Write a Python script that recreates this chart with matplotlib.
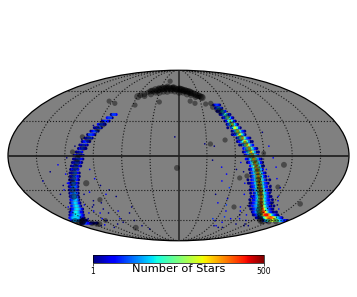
#!/usr/bin/env python

import matplotlib
matplotlib.use('Agg')
import matplotlib.pyplot as plt
import matplotlib.cm as cm
from matplotlib.colors import LogNorm
import numpy as np

CELL_STEP = 2.  # degrees of longitude between cells of a row

# right stream: latitude of each row, longitude of its centre, counts per cell
right_lat = [45, 42, 39, 36, 33, 30, 27, 24, 21, 18, 15, 12, 9, 6, 3, 0, -3, -6, -9, -12, -15, -18, -21, -24,
             -27, -30, -33, -36, -39, -42, -45, -48, -51, -54, -57, -60]
right_center = [50, 51, 53.5, 56, 58, 59.5, 61, 63, 65, 66.5, 69, 71, 73, 75, 76.5, 78, 79.5, 81, 82.5, 84, 85.5, 87, 88.5, 90,
                92, 94.5, 97, 99.5, 102, 105, 109, 114, 120, 128, 140, 158]
right_counts = [
    [1, 2, 3, 2, 1],
    [2, 3, 6, 3, 1],
    [1, 2, 3, 9, 4, 2, 0],
    [1, 2, 4, 14, 5, 2, 1],
    [1, 2, 6, 22, 7, 2, 1],
    [1, 2, 8, 30, 8, 2, 1],
    [1, 3, 9, 40, 10, 3, 1],
    [1, 0, 3, 10, 45, 12, 3, 1, 0],
    [0, 1, 3, 11, 50, 13, 4, 2, 1],
    [1, 2, 3, 12, 55, 13, 4, 1, 0],
    [0, 1, 4, 13, 60, 14, 4, 2, 1],
    [1, 2, 4, 13, 60, 14, 4, 1, 1],
    [1, 1, 4, 14, 65, 15, 4, 2, 0],
    [0, 2, 4, 14, 70, 15, 5, 2, 1],
    [1, 2, 5, 15, 70, 16, 5, 1, 1],
    [1, 2, 5, 15, 75, 16, 5, 2, 0],
    [2, 1, 5, 16, 75, 18, 5, 2, 1],
    [1, 2, 5, 16, 80, 18, 6, 2, 1],
    [0, 2, 6, 18, 80, 20, 6, 1, 1],
    [1, 2, 6, 18, 85, 20, 6, 2, 0],
    [1, 3, 6, 18, 85, 20, 6, 2, 1],
    [1, 3, 6, 20, 90, 22, 7, 2, 1],
    [1, 0, 2, 3, 6, 20, 90, 22, 7, 3, 1, 0, 1],
    [1, 1, 2, 3, 7, 20, 95, 24, 7, 3, 2, 1, 0],
    [0, 1, 2, 3, 7, 22, 100, 24, 8, 3, 2, 0, 1],
    [1, 1, 2, 4, 8, 22, 100, 25, 8, 3, 2, 1, 1],
    [1, 0, 2, 4, 8, 24, 110, 25, 8, 4, 2, 1, 0],
    [1, 2, 2, 4, 8, 24, 110, 28, 9, 4, 2, 1, 1],
    [1, 0, 2, 2, 4, 9, 25, 120, 30, 9, 4, 2, 2, 0, 1],
    [1, 1, 2, 3, 5, 10, 28, 130, 32, 10, 4, 3, 2, 1, 1],
    [1, 0, 2, 3, 5, 6, 11, 30, 150, 35, 11, 5, 3, 2, 1, 0, 1],
    [1, 1, 2, 3, 5, 7, 12, 35, 170, 40, 12, 6, 3, 2, 1, 1, 0],
    [0, 1, 2, 3, 5, 8, 14, 40, 100, 200, 60, 18, 6, 3, 2, 1, 1, 0, 1],
    [1, 1, 2, 3, 5, 9, 16, 40, 120, 250, 260, 120, 40, 12, 5, 3, 2, 1, 1],
    [1, 2, 2, 3, 4, 6, 10, 18, 40, 90, 140, 160, 120, 70, 30, 14, 8, 5, 3, 2, 1],
    [2, 3, 5, 8, 12, 20, 30, 40, 40, 30, 24, 18, 12, 8, 6, 4, 3, 2, 2, 1, 1],
]

# left stream
left_lat = [36, 33, 30, 27, 24, 21, 18, 15, 12, 9, 6, 3, 0, -3, -6, -9, -12, -15, -18, -21, -24,
            -27, -30, -33, -36, -39, -42, -45, -48, -51, -54, -57, -60, -63]
left_center = [-78, -81, -84, -87, -90, -92.5, -95, -97, -99, -101, -102, -104, -105.5, -106, -107.5, -109, -110.5, -112, -113, -115, -117,
               -119, -121, -123, -125.5, -128, -131, -134, -138, -144, -150, -157, -162, -155]
left_counts = [
    [1, 3, 3, 2],
    [2, 3, 3, 1],
    [1, 2, 3, 2, 1],
    [2, 3, 3, 2, 1],
    [1, 2, 3, 3, 1],
    [1, 2, 3, 3, 1],
    [1, 3, 3, 2, 1],
    [1, 2, 3, 3, 1],
    [1, 2, 3, 2, 1],
    [1, 2, 3, 2, 1],
    [1, 2, 3, 2, 1],
    [1, 2, 3, 2, 0],
    [1, 2, 3, 2, 2, 1],
    [1, 2, 3, 3, 2, 1],
    [1, 2, 3, 3, 2, 1],
    [1, 2, 3, 3, 2, 1],
    [1, 2, 3, 3, 2, 0],
    [1, 2, 3, 4, 2, 1],
    [1, 2, 4, 3, 2, 1],
    [1, 2, 3, 4, 2, 1],
    [2, 2, 4, 4, 2, 1],
    [1, 2, 4, 4, 3, 1],
    [1, 3, 4, 4, 2, 1],
    [1, 3, 4, 5, 3, 1],
    [1, 3, 5, 6, 3, 1],
    [2, 3, 5, 7, 4, 1],
    [1, 3, 5, 8, 5, 2, 1],
    [2, 3, 6, 9, 6, 3, 1],
    [1, 2, 3, 6, 9, 7, 4, 2, 1],
    [1, 2, 3, 6, 10, 8, 5, 2, 2, 1],
    [1, 2, 3, 5, 8, 9, 8, 6, 3, 2, 1],
    [2, 3, 5, 7, 8, 8, 7, 5, 3, 2, 2, 1],
    [2, 3, 5, 6, 6, 5, 4, 3, 3, 2, 2, 2, 1, 1],
    [1, 2, 2, 3, 3, 2, 2, 2, 2, 1, 1, 1, 0, 1, 1],
]

# isolated low-count cells
speck_lon = [-150, -138, -128, -122, -118, -132, -140, -126, -110, -100, -95, -92, -88, -86, -104, -98, -80, -75, -62, -70, -84, -92, -112, -120, -108,
             -126, -134, -144, -72, -68, -60, -104, -96, -146, -136, -130, -124, -116, -112, -122, -118, -114, -106, -100, -110, -128, -118, -110, -102, -94, -150, -142,
             38, 46, 52, 48, 58, 60, 62, 66, 70, 54, 92, 96, 100, 104, 108, 116, 120, 124, 128, 136, 100, 110, 118, 130,
             140, 150, 70, 74, 78, 82, 86, 60, 66, 112, 96, 106, 28, 36, -4, 44, 50, 66, 70, 74, 78, 62, 94, 98, 104, 108, 112, 118, 126, 82, 86, 90, 94, 96, 102, 110, 116, 122]
speck_lat = [-22, -14, -8, -16, -2, -30, -34, -38, 8, 6, -12, -20, -26, -34, -32, -42, -30, -36, -46, -52, -50, -58, -52, -58, -64,
             -68, -65, -66, -60, -66, -70, 14, 26, -46, -42, -26, -24, -26, -34, -44, -50, -46, -40, -52, -20, -52, -60, -44, -48, -62, -56, -58,
             8, -10, -16, -22, -28, -38, -44, -50, -56, -58, 20, 8, -2, -10, -20, -28, -36, -40, -44, -48, -54, -60, -64, -66,
             -56, -62, -66, -62, -68, -58, -68, -60, -66, -44, -32, -52, 10, -4, 16, -34, -42, -6, -14, -24, -34, -12, -12, -18, -26, -32, -40, -50, -56, -46, -50, -54, -44, -58, -64, -54, -44, -66]
speck_counts = [2, 1, 2, 2, 1, 2, 1, 2, 1, 1, 2, 2, 1, 2, 2, 1, 1, 1, 1, 1, 2, 2, 2, 2, 1,
                1, 2, 1, 1, 1, 1, 1, 1, 2, 2, 1, 2, 2, 1, 2, 2, 1, 1, 1, 2, 2, 2, 1, 1, 1, 2, 1,
                1, 2, 2, 2, 3, 2, 3, 2, 3, 3, 1, 2, 2, 2, 2, 2, 2, 2, 1, 2, 2, 2, 1, 1,
                1, 1, 2, 2, 1, 2, 1, 2, 1, 1, 2, 2, 1, 1, 1, 1, 2, 2, 1, 2, 2, 1, 2, 2, 1, 1, 2, 1, 1, 2, 2, 1, 2, 2, 1, 2, 1, 1]

# dark circles, degrees
star_lon = [-59.5, -57, -52, -48, -45, -41, -38, -35, -32, -29, -27, -24, -22, -19, -16, -13, -10, -8, -5, -3, 0, 2, 4, 6, 8, 10, 12,
            14, 16, 18, 20, 22, 25, 27, 29, 31, 33, 34, -50, -42, -36, -30, -24, -18, -12, -6, 1, 7, 13, 19, 25, -44, -34, -20, -10,
            -95, -85, -104, -112, -103, -97, -85, -119, -1.6, -57, -26, -18, 16, 22, 36, 43, 44, 50, 34, 90, 112, 67, 113, 156, 73.5, 74.5,
            49, 51, 53, 57, 60, 64, 67, 71, 74, 77, 80, 82, 84, 85, 87, 88, 90, 92, 94, 96, 99, 102, 105, 108, 111, 116, 122, 128, 134, 140, 150, 162,
            -86, -90, -97, -101, -105, -107, -108, -110, -113, -116, -118, -122, -126, -155, -160, -164, -168, -172, -150, -145, -140]
star_lat = [53.5, 55, 56, 58, 59, 59.5, 61, 60, 61, 62, 62.5, 62, 63, 62, 63, 62, 62, 63, 62, 61, 61.5, 62, 61, 61, 60, 60, 59.5,
            59, 59, 58, 57.5, 57, 56, 55, 54.5, 54, 53, 52.5, 54, 56, 58, 58, 59, 59, 60, 59, 58, 58, 56, 55, 53, 60, 63, 65, 64,
            48.8, 46.7, 16, 3, -24, -39, -68.5, -60, -10.7, 45, 48, 71, 48.8, 46.7, 46, 46.7, 43, 13.3, 9.9, 2, -8, -19.4, -27.4, -43, -46, -17.6,
            41, 39.5, 38, 34, 27, 20, 15, 10, 5, 0, -4, -7, -11, -14, -18, -21, -24, -27, -30, -33, -36, -40, -43, -46, -49, -52, -55, -58, -60, -61, -61, -61,
            27, 23, 14, 7, 1, -3, -6, -10, -15, -20, -24, -30, -36, -60, -61, -62, -62, -61, -63, -64, -64]
star_size = [26, 18, 20, 14, 20, 24, 26, 22, 26, 24, 26, 24, 22, 26, 24, 22, 26, 24, 22, 20, 24, 22, 26, 24, 22, 26, 24,
             22, 24, 26, 24, 22, 24, 22, 24, 22, 24, 26, 18, 20, 22, 24, 22, 24, 22, 20, 24, 22, 22, 20, 18, 16, 14, 14, 14,
             14, 14, 14, 14, 20, 14, 18, 12, 18, 14, 14, 14, 14, 14, 14, 14, 16, 14, 14, 12, 18, 14, 14, 16, 14, 14,
             22, 22, 22, 18, 18, 20, 20, 18, 20, 20, 22, 20, 22, 22, 22, 20, 22, 22, 24, 22, 22, 22, 24, 22, 24, 22, 24, 22, 24, 22, 20, 18,
             22, 20, 24, 24, 24, 22, 24, 22, 24, 22, 24, 22, 22, 26, 26, 26, 26, 24, 18, 16, 16]

lon_ticks = [-150, -120, -90, -60, -30, 30, 60, 90, 120, 150]
lat_ticks = [-60, -30, 30, 60]


def expand_rows(lats, centers, rows):
    # turn ring rows into flat lon, lat, count lists, dropping empty cells
    lon, lat, counts = [], [], []
    for la, ce, row in zip(lats, centers, rows):
        for i, c in enumerate(row):
            if c > 0:
                lon.append(ce + (i - (len(row)-1)/2.)*CELL_STEP)
                lat.append(la)
                counts.append(c)
    return lon, lat, counts


fig = plt.figure(figsize=(3.57, 2.97), dpi=100)
W, H = 357., 297.
ax = fig.add_axes([8/W, 1-241/H, 341/W, 171/H], projection='mollweide')
ax.set_facecolor('#808080')

rlon, rlat, rc = expand_rows(right_lat, right_center, right_counts)
llon, llat, lc = expand_rows(left_lat, left_center, left_counts)
lon = np.array(rlon + llon, dtype=float)
lat = np.array(rlat + llat, dtype=float)
counts = np.array(rc + lc, dtype=float)
order = np.argsort(counts)

norm = LogNorm(vmin=1, vmax=500)
ax.scatter(np.radians(speck_lon), np.radians(speck_lat), c=speck_counts, s=1.4, marker='o',
           cmap='jet', norm=norm, linewidths=0, zorder=2)
ax.scatter(np.radians(lon[order]), np.radians(lat[order]), c=counts[order], s=4.5, marker='o',
           cmap='jet', norm=norm, linewidths=0, zorder=2)

# graticule
ax.set_longitude_grid_ends(89)
ax.set_xticks(np.radians(lon_ticks))
ax.set_yticks(np.radians(lat_ticks))
ax.set_xticklabels([])
ax.set_yticklabels([])
ax.grid(True, color='k', linestyle=':', linewidth=0.8, alpha=0.8)
ax.set_axisbelow(False)
ax.plot(np.radians([-179.9, 179.9]), [0, 0], color='#222222', lw=1.3, zorder=3)
ax.plot([0, 0], np.radians([-89.9, 89.9]), color='#222222', lw=1.1, zorder=3)

ax.scatter(np.radians(star_lon), np.radians(star_lat), s=star_size, c='k', alpha=0.42, linewidths=0, zorder=4)

for s in ax.spines.values():
    s.set_linewidth(0.9)

cax = fig.add_axes([93/W, 1-263/H, 171/W, 8/H])
cb = fig.colorbar(cm.ScalarMappable(norm=norm, cmap='jet'), cax=cax, orientation='horizontal')
cb.set_ticks([1, 500], labels=['1', '500'])
cb.ax.minorticks_off()
cb.ax.tick_params(labelsize=5.5, length=2, width=0.5, pad=1)
cb.outline.set_linewidth(0.5)
fig.text(178.5/W, 1-268.5/H, 'Number of Stars', ha='center', va='center', fontsize=8.2, color='k')

fig.savefig('out.png', dpi=100)
